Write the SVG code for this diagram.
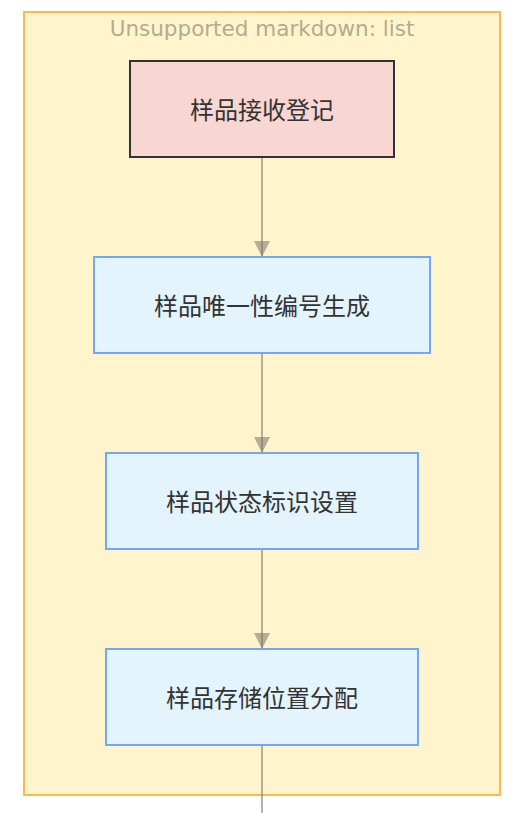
<svg xmlns="http://www.w3.org/2000/svg" width="516" height="813" viewBox="0 0 516 813">
<style>
.cluster{fill:#fff4cc;stroke:#ffb84d;stroke-width:2}
.title{font-family:"DejaVu Sans",sans-serif;font-size:21.5px;fill:#b3ad8c;text-anchor:middle}
.node rect{fill:#e3f4fd;stroke:#74a6f7;stroke-width:2}
.node.start rect{fill:#f8d6d2;stroke:#333333}
.node text{font-family:"Noto Sans CJK SC","Noto Sans",sans-serif;font-size:24px;fill:#333333;text-anchor:middle;dominant-baseline:central}
.edge{stroke:#777766;stroke-opacity:0.55;stroke-width:2;fill:none}
</style>
<defs>
<marker id="arrow" viewBox="0 0 16 16" refX="8" refY="16" markerWidth="16" markerHeight="16" markerUnits="userSpaceOnUse" orient="0">
<path d="M0,0 L16,0 L8,16 Z" fill="#777766" fill-opacity="0.55"/>
</marker>
</defs>
<rect width="516" height="813" fill="#ffffff"/>
<g id="cluster">
<rect class="cluster" x="24" y="12" width="476" height="783"/>
<text class="title" x="262" y="36">Unsupported markdown: list</text>
</g>
<g id="edges">
<path class="edge" d="M262,157 L262,257" marker-end="url(#arrow)"/>
<path class="edge" d="M262,353 L262,453" marker-end="url(#arrow)"/>
<path class="edge" d="M262,549 L262,649" marker-end="url(#arrow)"/>
<path class="edge" d="M262,745 L262,813"/>
</g>
<g id="n1" class="node start">
<rect x="130" y="61" width="264" height="96"/>
<text x="262" y="108">样品接收登记</text>
</g>
<g id="n2" class="node">
<rect x="94" y="257" width="336" height="96"/>
<text x="262" y="304">样品唯一性编号生成</text>
</g>
<g id="n3" class="node">
<rect x="106" y="453" width="312" height="96"/>
<text x="262" y="500">样品状态标识设置</text>
</g>
<g id="n4" class="node">
<rect x="106" y="649" width="312" height="96"/>
<text x="262" y="696">样品存储位置分配</text>
</g>
</svg>
